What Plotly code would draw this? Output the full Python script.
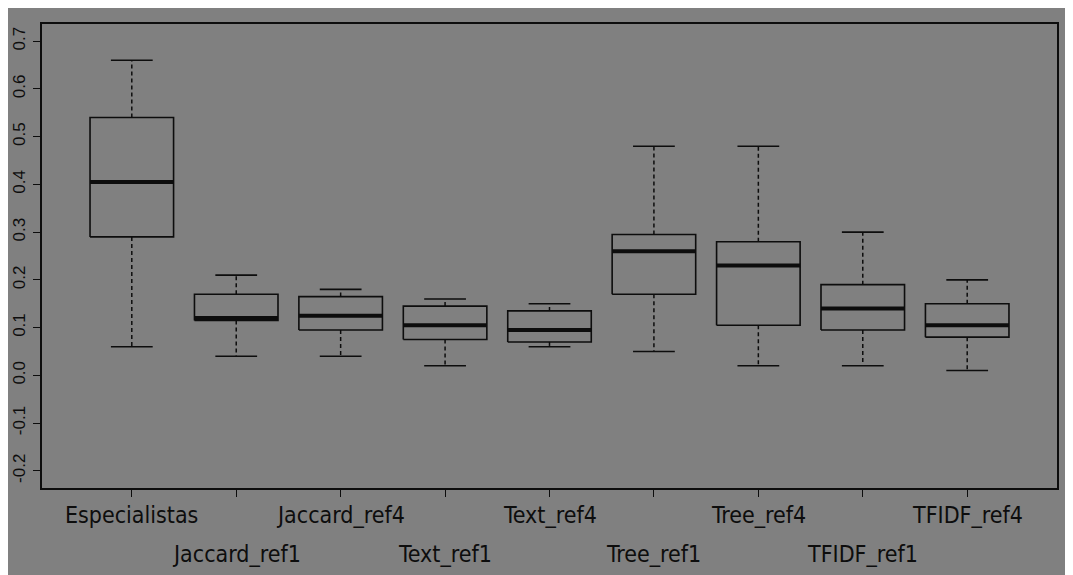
import plotly.graph_objects as go

categories = ["Especialistas", "Jaccard_ref1", "Jaccard_ref4", "Text_ref1", "Text_ref4",
              "Tree_ref1", "Tree_ref4", "TFIDF_ref1", "TFIDF_ref4"]
lower_whisker = [0.06, 0.04, 0.04, 0.02, 0.06, 0.05, 0.02, 0.02, 0.01]
q1_values     = [0.29, 0.115, 0.095, 0.075, 0.07, 0.17, 0.105, 0.095, 0.08]
medians       = [0.405, 0.12, 0.125, 0.105, 0.095, 0.26, 0.23, 0.14, 0.105]
q3_values     = [0.54, 0.17, 0.165, 0.145, 0.135, 0.295, 0.28, 0.19, 0.15]
upper_whisker = [0.66, 0.21, 0.18, 0.16, 0.15, 0.48, 0.48, 0.30, 0.20]
y_ticks = [-0.2, -0.1, 0.0, 0.1, 0.2, 0.3, 0.4, 0.5, 0.6, 0.7]

BOX_HALF = 0.4
CAP_HALF = 0.2
INK = "#0d0d0d"
GRAY = "#808080"

positions = list(range(1, len(categories) + 1))

bx, by, mx, my, wx, wy, cx, cy = [], [], [], [], [], [], [], []
for p, lo, a, m, b, hi in zip(positions, lower_whisker, q1_values, medians, q3_values, upper_whisker):
    bx += [p - BOX_HALF, p + BOX_HALF, p + BOX_HALF, p - BOX_HALF, p - BOX_HALF, None]
    by += [a, a, b, b, a, None]
    mx += [p - BOX_HALF, p + BOX_HALF, None]
    my += [m, m, None]
    wx += [p, p, None, p, p, None]
    wy += [b, hi, None, a, lo, None]
    cx += [p - CAP_HALF, p + CAP_HALF, None, p - CAP_HALF, p + CAP_HALF, None]
    cy += [hi, hi, None, lo, lo, None]

fig = go.Figure()
fig.add_trace(go.Scatter(x=wx, y=wy, mode="lines", line=dict(color=INK, width=1.5, dash="4px,3px"),
                         hoverinfo="skip", showlegend=False))
fig.add_trace(go.Scatter(x=cx, y=cy, mode="lines", line=dict(color=INK, width=1.6),
                         hoverinfo="skip", showlegend=False))
fig.add_trace(go.Scatter(x=bx, y=by, mode="lines", line=dict(color=INK, width=1.6),
                         hoverinfo="skip", showlegend=False))
fig.add_trace(go.Scatter(x=mx, y=my, mode="lines", line=dict(color=INK, width=4),
                         hoverinfo="skip", showlegend=False))

# staggered category labels (two rows, as in the original)
for i, (p, name) in enumerate(zip(positions, categories)):
    fig.add_annotation(x=p, xref="x", y=0, yref="paper", text=name, showarrow=False,
                       xanchor="center", yanchor="top", yshift=-12 if i % 2 == 0 else -51,
                       font=dict(family="DejaVu Sans Condensed, Liberation Sans Narrow, sans-serif",
                                 size=23, color=INK))

fig.update_layout(
    width=1065, height=567,
    margin=dict(l=34, r=16, t=16, b=87, autoexpand=False),
    paper_bgcolor=GRAY, plot_bgcolor=GRAY,
    showlegend=False,
    font=dict(family="Liberation Sans, Arial, sans-serif", color=INK),
)
fig.update_xaxes(range=[0.14, 9.86], tickvals=positions, ticktext=[""] * len(positions),
                 ticks="outside", ticklen=7, tickwidth=1.2, tickcolor=INK,
                 showline=True, linecolor=INK, linewidth=1.6, mirror=True,
                 showgrid=False, zeroline=False, automargin=False)
fig.update_yaxes(range=[-0.236, 0.736], tickvals=y_ticks, ticktext=[f"{v:.1f}" for v in y_ticks],
                 tickangle=-90, tickfont=dict(size=17, color=INK), ticklabelstandoff=1,
                 ticks="outside", ticklen=7, tickwidth=1.2, tickcolor=INK,
                 showline=True, linecolor=INK, linewidth=1.6, mirror=True,
                 showgrid=False, zeroline=False, automargin=False)

fig.write_html("out.html")
